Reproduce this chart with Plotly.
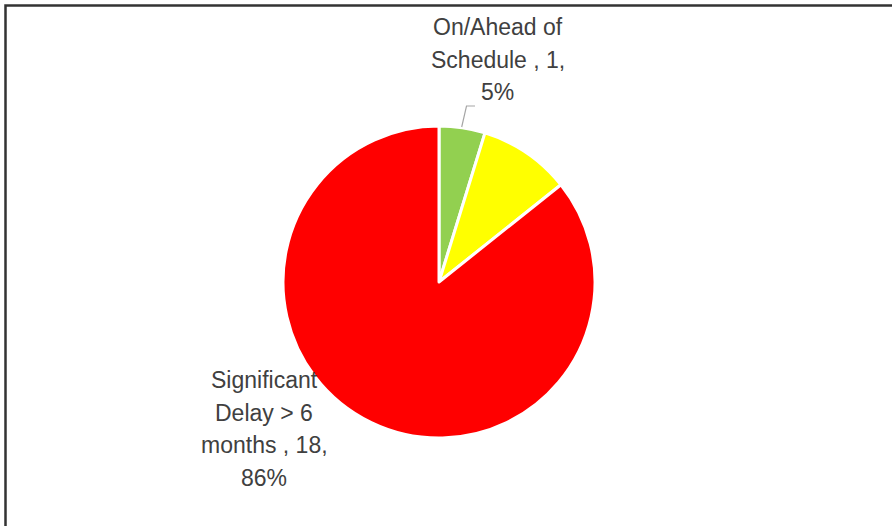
import textwrap
import plotly.graph_objects as go

# Data
categories = ["On/Ahead of Schedule", "Delay < 6 months", "Significant Delay > 6 months"]
values = [1, 2, 18]
colors = ["#92D050", "#FFFF00", "#FF0000"]
show_label = [True, False, True]

W, H = 892, 526
total = sum(values)
pcts = [round(100 * v / total) for v in values]


def px(x):
    return x / W


def py(y):
    return 1 - y / H


fig = go.Figure(
    go.Pie(
        labels=categories,
        values=values,
        marker=dict(colors=colors, line=dict(color="white", width=3)),
        sort=False,
        direction="clockwise",
        rotation=0,
        textinfo="none",
        hovertemplate="%{label}: %{value} (%{percent})<extra></extra>",
        domain=dict(x=[px(283), px(595)], y=[py(438), py(126)]),
        showlegend=False,
    )
)

# label placement (center x, first-line center y, line spacing) in pixels
label_pos = {0: (498, 27), 2: (264, 380)}
line_gap = 32.7
annotations = []
for i, (cat, v, p) in enumerate(zip(categories, values, pcts)):
    if not show_label[i]:
        continue
    text = f"{cat} , {v}, {p}%"
    lines = textwrap.wrap(text, width=13)
    x, y0 = label_pos[i]
    for k, line in enumerate(lines):
        annotations.append(
            dict(
                text=line,
                x=px(x), y=py(y0 + k * line_gap), xref="paper", yref="paper",
                xanchor="center", yanchor="middle", showarrow=False,
                font=dict(family="Liberation Sans, Arial, sans-serif", size=23, color="#404040"),
                align="center",
            )
        )

shapes = [
    # chart frame
    dict(type="rect", xref="paper", yref="paper",
         x0=px(5.5), x1=1.02, y0=-0.02, y1=py(5.5),
         line=dict(color="#333333", width=2.5), fillcolor="rgba(0,0,0,0)"),
    # leader line for first label
    dict(type="path", xref="paper", yref="paper",
         path=f"M {px(461.7)} {py(127)} L {px(466.5)} {py(106)} L {px(475)} {py(106)}",
         line=dict(color="#A6A6A6", width=1.2)),
]

fig.update_layout(
    width=W, height=H,
    margin=dict(l=0, r=0, t=0, b=0),
    paper_bgcolor="white", plot_bgcolor="white",
    annotations=annotations,
    shapes=shapes,
)

fig.write_html("out.html")
